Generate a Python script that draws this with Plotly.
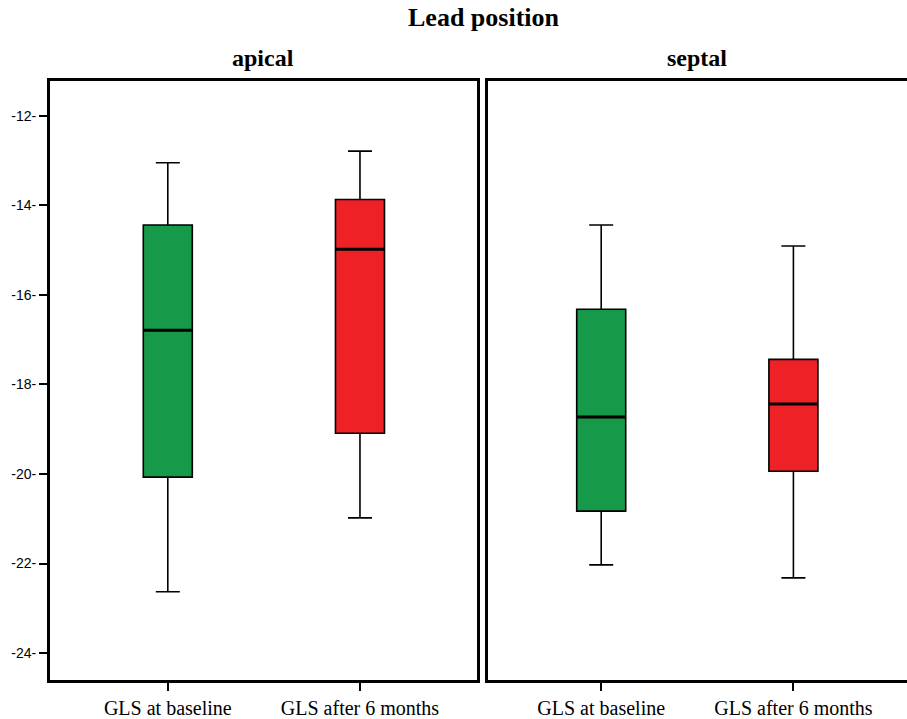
import plotly.graph_objects as go

# ---- data ----
categories = ["GLS at baseline", "GLS after 6 months"]
panels = ["apical", "septal"]
box_colors = ["#17994a", "#ee2226"]

# per panel: [baseline, after 6 months]
apical_lower = [-22.63, -20.98]
apical_q1 = [-20.07, -19.09]
apical_median = [-16.79, -14.98]
apical_q3 = [-14.44, -13.87]
apical_upper = [-13.05, -12.79]

septal_lower = [-22.03, -22.32]
septal_q1 = [-20.83, -19.94]
septal_median = [-18.73, -18.44]
septal_q3 = [-16.32, -17.44]
septal_upper = [-14.44, -14.91]

y_ticks = [-12, -14, -16, -18, -20, -22, -24]

stats = {
    "apical": (apical_lower, apical_q1, apical_median, apical_q3, apical_upper),
    "septal": (septal_lower, septal_q1, septal_median, septal_q3, septal_upper),
}

BOX_W = 0.255
fig = go.Figure()
for pi, panel in enumerate(panels):
    lo, q1, med, q3, up = stats[panel]
    xa = "x" if pi == 0 else "x2"
    ya = "y" if pi == 0 else "y2"
    for ci, cat in enumerate(categories):
        fig.add_trace(go.Box(
            x=[ci], q1=[q1[ci]], median=[med[ci]], q3=[q3[ci]],
            lowerfence=[lo[ci]], upperfence=[up[ci]],
            width=BOX_W, whiskerwidth=0.49,
            fillcolor=box_colors[ci], line=dict(color="black", width=1.6),
            boxpoints=False, hoverinfo="skip", showlegend=False,
            xaxis=xa, yaxis=ya,
        ))
        # thicker median line
        fig.add_trace(go.Scatter(
            x=[ci - BOX_W / 2, ci + BOX_W / 2], y=[med[ci], med[ci]],
            mode="lines", line=dict(color="black", width=3),
            hoverinfo="skip", showlegend=False, xaxis=xa, yaxis=ya,
        ))

W, H = 907, 719
ml, mr, mt, mb = 50, 0, 81, H - 680
pw = W - ml - mr
ph = H - mt - mb


def px_x(page_x):
    return (page_x - ml) / pw


def px_y(page_y):
    return 1 + (mt - page_y) / ph


serif = "Liberation Serif"
xtick_font = dict(family=serif, size=20, color="black")

common_x = dict(
    tickmode="array", tickvals=[0, 1], ticktext=categories,
    tickfont=xtick_font, ticks="outside", ticklen=8, tickwidth=1.5,
    tickcolor="black", showline=True, linewidth=3, linecolor="black",
    showgrid=False, zeroline=False, fixedrange=True, automargin=False,
)
fig.update_layout(
    width=W, height=H,
    margin=dict(l=ml, r=mr, t=mt, b=mb, autoexpand=False),
    paper_bgcolor="white", plot_bgcolor="white",
    xaxis=dict(domain=[0, px_x(477)], range=[-0.613, 1.609],
               mirror=True, **common_x),
    xaxis2=dict(domain=[px_x(488), 1], range=[-0.589, 1.591],
                mirror=True, **common_x),
    yaxis=dict(range=[-24.60, -11.225], tickmode="array", tickvals=y_ticks,
               ticktext=[f"{v}-" for v in y_ticks],
               tickfont=dict(family="Liberation Sans", size=14, color="black"),
               ticks="outside", ticklen=8, tickwidth=1.5, tickcolor="black",
               showline=True, linewidth=3, linecolor="black", mirror=True,
               showgrid=False, zeroline=False, anchor="x", automargin=False,
               fixedrange=True),
    yaxis2=dict(range=[-24.60, -11.225], matches="y", anchor="x2",
                showticklabels=False, ticks="", showline=True, linewidth=3,
                linecolor="black", mirror=False, showgrid=False,
                zeroline=False, automargin=False),
    annotations=[
        dict(text="<b>Lead position</b>", xref="paper", yref="paper",
             x=px_x(484), y=px_y(18), showarrow=False,
             font=dict(family=serif, size=26, color="black"),
             xanchor="center", yanchor="middle"),
        dict(text="<b>apical</b>", xref="paper", yref="paper",
             x=px_x(263), y=px_y(58), showarrow=False,
             font=dict(family=serif, size=24, color="black"),
             xanchor="center", yanchor="middle"),
        dict(text="<b>septal</b>", xref="paper", yref="paper",
             x=px_x(697), y=px_y(58), showarrow=False,
             font=dict(family=serif, size=24, color="black"),
             xanchor="center", yanchor="middle"),
    ],
)

fig.write_html(
    "out.html",
    config={"displayModeBar": False},
    post_script="document.body.style.margin='0';"
                "document.body.style.overflow='hidden';",
)
